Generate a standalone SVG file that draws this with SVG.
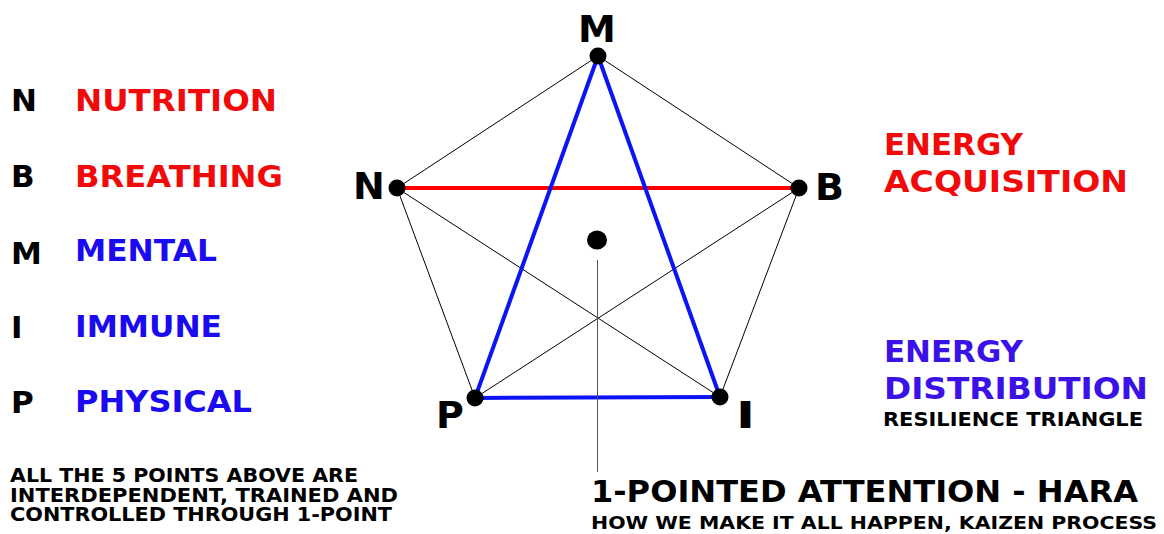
<svg xmlns="http://www.w3.org/2000/svg" width="1164" height="534" viewBox="0 0 1164 534">
<style>
text{font-family:"DejaVu Sans","Liberation Sans",sans-serif;font-weight:bold}
.k{fill:#000}
.r{fill:#f00a0a}
.b{fill:#1a0af0}
.d{fill:#3a12e8}
.thin{stroke:#000;stroke-width:1;fill:none}
.blue{stroke:#0a14f5;stroke-width:4;fill:none}
.red{stroke:#ff0000;stroke-width:4;fill:none}
.lbl{font-size:38px}
.lst{font-size:31px}
</style>
<rect width="1164" height="534" fill="#fff"/>
<g id="connectors">
<line class="thin" x1="598" y1="56" x2="397" y2="188"/>
<line class="thin" x1="598" y1="56" x2="799" y2="188"/>
<line class="thin" x1="397" y1="188" x2="475" y2="398"/>
<line class="thin" x1="799" y1="188" x2="720" y2="397"/>
<line class="thin" x1="397" y1="188" x2="720" y2="397"/>
<line class="thin" x1="799" y1="188" x2="475" y2="398"/>
<line class="red" x1="397" y1="188" x2="799" y2="188"/>
<line class="blue" x1="598" y1="56" x2="475" y2="398"/>
<line class="blue" x1="598" y1="56" x2="720" y2="397"/>
<line class="blue" x1="475" y1="398" x2="720" y2="397"/>
<line stroke="#555" stroke-width="1" x1="597.5" y1="260" x2="597.5" y2="472"/>
</g>
<g id="node-M"><circle cx="598" cy="56" r="8.5"/><text class="lbl" x="597" y="42" text-anchor="middle">M</text></g>
<g id="node-N"><circle cx="397" cy="188" r="8.5"/><text class="lbl" x="353" y="199">N</text></g>
<g id="node-B"><circle cx="799" cy="188" r="8.5"/><text class="lbl" x="815" y="200">B</text></g>
<g id="node-P"><circle cx="475" cy="398" r="8.5"/><text class="lbl" x="436" y="428">P</text></g>
<g id="node-I"><circle cx="720" cy="397" r="8.5"/><text class="lbl" x="736" y="428" textLength="19" lengthAdjust="spacingAndGlyphs">I</text></g>
<g id="node-center"><ellipse cx="597" cy="240" rx="10" ry="9.5"/></g>
<g id="legend">
<text class="lst k" x="11" y="111">N</text><text class="lst r" x="75" y="111" textLength="202" lengthAdjust="spacingAndGlyphs">NUTRITION</text>
<text class="lst k" x="11" y="187">B</text><text class="lst r" x="75" y="187" textLength="208" lengthAdjust="spacingAndGlyphs">BREATHING</text>
<text class="lst k" x="11" y="264">M</text><text class="lst b" x="75" y="261" textLength="142" lengthAdjust="spacingAndGlyphs">MENTAL</text>
<text class="lst k" x="11" y="338">I</text><text class="lst b" x="75" y="337" textLength="147" lengthAdjust="spacingAndGlyphs">IMMUNE</text>
<text class="lst k" x="11" y="413">P</text><text class="lst b" x="75" y="412" textLength="177" lengthAdjust="spacingAndGlyphs">PHYSICAL</text>
</g>
<g id="energy-acq">
<text class="r" font-size="30" x="884" y="155" textLength="139" lengthAdjust="spacingAndGlyphs">ENERGY</text>
<text class="r" font-size="30" x="884" y="192" textLength="244" lengthAdjust="spacingAndGlyphs">ACQUISITION</text>
</g>
<g id="energy-dist">
<text class="d" font-size="30" x="884" y="362" textLength="139" lengthAdjust="spacingAndGlyphs">ENERGY</text>
<text class="d" font-size="30" x="884" y="399" textLength="264" lengthAdjust="spacingAndGlyphs">DISTRIBUTION</text>
<text class="k" font-size="19" x="883" y="426" textLength="260" lengthAdjust="spacingAndGlyphs">RESILIENCE TRIANGLE</text>
</g>
<g id="note">
<text class="k" font-size="20" x="10" y="482" textLength="348" lengthAdjust="spacingAndGlyphs">ALL THE 5 POINTS ABOVE ARE</text>
<text class="k" font-size="20" x="10" y="501.5" textLength="388" lengthAdjust="spacingAndGlyphs">INTERDEPENDENT, TRAINED AND</text>
<text class="k" font-size="20" x="10" y="521" textLength="382" lengthAdjust="spacingAndGlyphs">CONTROLLED THROUGH 1-POINT</text>
</g>
<g id="hara">
<text class="k" font-size="30" x="591" y="502" textLength="547" lengthAdjust="spacingAndGlyphs">1-POINTED ATTENTION - HARA</text>
<text class="k" font-size="18.5" x="591" y="529" textLength="566" lengthAdjust="spacingAndGlyphs">HOW WE MAKE IT ALL HAPPEN, KAIZEN PROCESS</text>
</g>
</svg>
